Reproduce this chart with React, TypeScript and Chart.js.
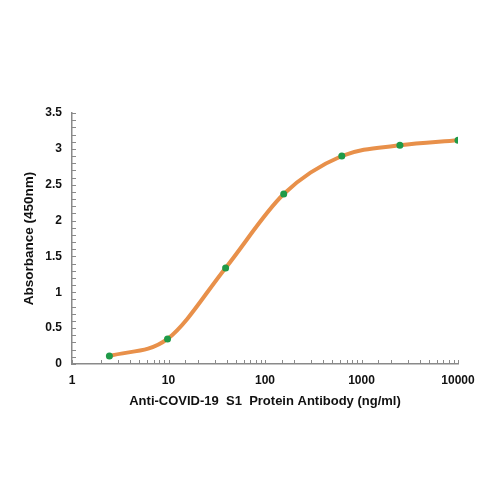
import React, { useEffect, useRef } from 'react';
import Chart from 'chart.js/auto';

const concentrations = [2.44, 9.77, 39.06, 156.25, 625, 2500, 10000];
const absorbance = [0.11, 0.35, 1.34, 2.37, 2.9, 3.05, 3.12];
const xTitle = 'Anti-COVID-19  S1  Protein Antibody (ng/ml)';
const yTitle = 'Absorbance (450nm)';

const FONT = "'Liberation Sans', Arial, sans-serif";
const AXIS_GRAY = '#8a8a8a';

// small tick marks drawn inside the plot, like the original
const innerTicks = {
  id: 'innerTicks',
  beforeDatasetsDraw(chart: any) {
    const { ctx, chartArea, scales } = chart;
    ctx.save();
    ctx.strokeStyle = AXIS_GRAY;
    ctx.lineWidth = 1;
    ctx.beginPath();
    scales.y.ticks.forEach((t: any) => {
      const y = Math.round(scales.y.getPixelForValue(t.value)) + 0.5;
      ctx.moveTo(chartArea.left, y);
      ctx.lineTo(chartArea.left + 4, y);
    });
    scales.x.ticks.forEach((t: any) => {
      const x = Math.round(scales.x.getPixelForValue(t.value)) + 0.5;
      ctx.moveTo(x, chartArea.bottom);
      ctx.lineTo(x, chartArea.bottom - 4);
    });
    ctx.stroke();
    ctx.restore();
  },
};

export default function App() {
  const canvasRef = useRef<HTMLCanvasElement>(null);

  useEffect(() => {
    if (!canvasRef.current) return;
    const chart = new Chart(canvasRef.current, {
      type: 'line',
      data: {
        datasets: [
          {
            data: concentrations.map((c, i) => ({ x: c, y: absorbance[i] })),
            borderColor: '#e8904a',
            borderWidth: 4,
            cubicInterpolationMode: 'monotone',
            pointRadius: 3.5,
            pointBackgroundColor: '#1f9a48',
            pointBorderColor: '#1f9a48',
            pointBorderWidth: 0,
            fill: false,
          },
        ],
      },
      options: {
        animation: false,
        responsive: true,
        maintainAspectRatio: false,
        layout: { padding: { left: 21, top: 113, right: 42, bottom: 91 } },
        plugins: { legend: { display: false }, tooltip: { enabled: false } },
        scales: {
          x: {
            type: 'logarithmic',
            min: 1,
            max: 10000,
            afterFit: (s: any) => { s.height = 45; },
            grid: { drawOnChartArea: false, drawTicks: false },
            border: { color: AXIS_GRAY, width: 1.5 },
            ticks: {
              autoSkip: false,
              maxRotation: 0,
              padding: 9,
              color: '#111',
              font: { family: FONT, size: 12, weight: 'bold' },
              callback: (v: any) => {
                const l = Math.log10(Number(v));
                return Math.abs(l - Math.round(l)) < 1e-9 ? String(Math.round(Number(v))) : '';
              },
            },
            title: {
              display: true,
              text: xTitle,
              color: '#111',
              padding: { top: 4, bottom: 0 },
              font: { family: FONT, size: 13, weight: 'bold' },
            },
          },
          y: {
            min: 0,
            max: 3.5,
            afterFit: (s: any) => { s.width = 51; },
            grid: { drawOnChartArea: false, drawTicks: false },
            border: { color: AXIS_GRAY, width: 1.5 },
            ticks: {
              stepSize: 0.1,
              autoSkip: false,
              padding: 10,
              color: '#111',
              font: { family: FONT, size: 12, weight: 'bold' },
              callback: (v: any) => {
                const t = Math.round(Number(v) * 10);
                return t % 5 === 0 ? String(t / 10) : '';
              },
            },
            title: {
              display: true,
              text: yTitle,
              color: '#111',
              padding: { top: 0, bottom: 4 },
              font: { family: FONT, size: 13.5, weight: 'bold' },
            },
          },
        },
      },
      plugins: [innerTicks],
    });
    return () => chart.destroy();
  }, []);

  return (
    <div style={{ position: 'absolute', left: 0, top: 0, width: 500, height: 500, background: '#fff' }}>
      <canvas ref={canvasRef}></canvas>
    </div>
  );
}
